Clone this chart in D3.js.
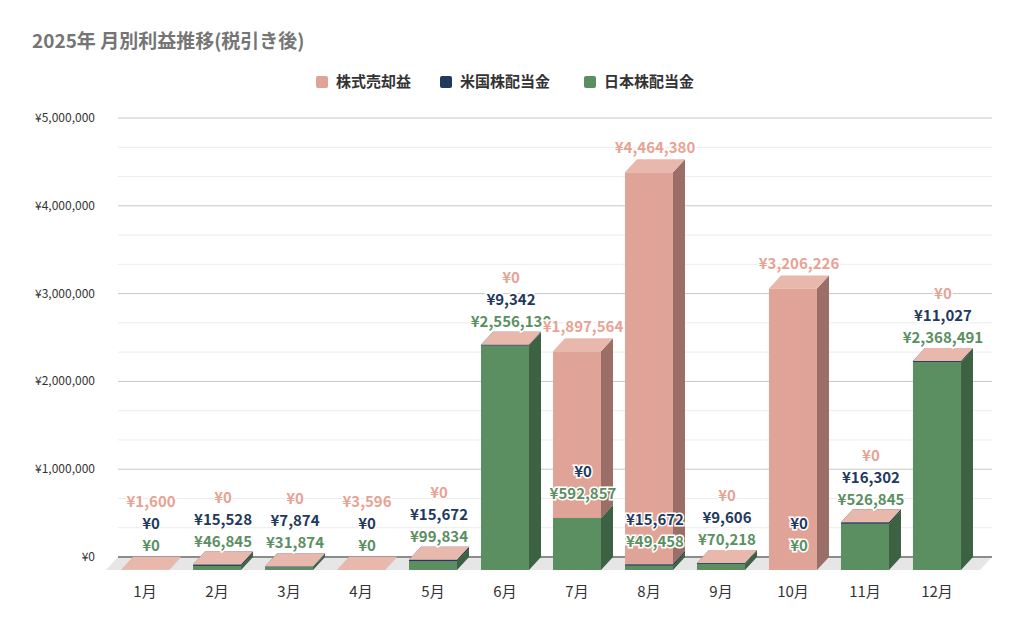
<!DOCTYPE html>
<html><head><meta charset="utf-8">
<script src="https://cdn.jsdelivr.net/npm/d3@7"></script>
<style>body{margin:0;background:#fff}svg{font-family:"Noto Sans CJK JP","Noto Sans",sans-serif}</style>
</head><body><svg id="c" width="1024" height="632"></svg>
<script>
const months=["1月","2月","3月","4月","5月","6月","7月","8月","9月","10月","11月","12月"];
const jp=[0,46845,31874,0,99834,2556130,592857,49458,70218,0,526845,2368491];
const us=[0,15528,7874,0,15672,9342,0,15672,9606,0,16302,11027];
const stock=[1600,0,0,3596,0,0,1897564,4464380,0,3206226,0,0];
const yTicks=[0,1000000,2000000,3000000,4000000,5000000];
const seriesNames=["株式売却益","米国株配当金","日本株配当金"];

const svg=d3.select("#c");
const DX=12,DY=13;
const y=d3.scaleLinear().domain([0,5000000]).range([557,118]);
const yF=v=>y(v)+DY;
const x=d3.scaleBand().domain(months).range([109,973]).paddingInner(0.333).paddingOuter(0.167);
const bw=x.bandwidth();

svg.append("text").attr("x",32).attr("y",48).attr("fill","#757575").attr("font-size",19).attr("font-weight",700).text("2025年 月別利益推移(税引き後)");

const cols={s:["#e0a397","#e9b8ad","#9b6f67"],u:["#1f3a5c","#3b5a82","#15283f"],j:["#5b8f62","#7aab80","#3d6143"]};
const lcol=["#e0a397","#1f3a5c","#5b8f62"];
const lx=[316,440,584];
seriesNames.forEach((n,i)=>{
  svg.append("rect").attr("x",lx[i]).attr("y",76).attr("width",12).attr("height",12).attr("rx",2).attr("fill",lcol[i]);
  svg.append("text").attr("x",lx[i]+20).attr("y",87).attr("font-size",15).attr("font-weight",700).attr("fill","#333").text(n);
});

const minor=d3.range(0,15).map(k=>k*1000000/3).filter(v=>v%1000000!==0);
svg.selectAll(".mg").data(minor).join("line").attr("x1",118).attr("x2",992).attr("y1",d=>y(d)).attr("y2",d=>y(d)).attr("stroke","#ececec");
svg.selectAll(".g").data(yTicks).join("line").attr("x1",118).attr("x2",992).attr("y1",d=>y(d)).attr("y2",d=>y(d)).attr("stroke","#c8c8c8");
svg.selectAll(".yt").data(yTicks).join("text").attr("x",95).attr("y",d=>y(d)+4).attr("text-anchor","end").attr("font-size",12).attr("fill","#333").text(d=>"¥"+d3.format(",")(d));
svg.append("polygon").attr("points",`106,${557+DY} 980,${557+DY} 992,557 118,557`).attr("fill","#e6e6e6");
svg.append("line").attr("x1",118).attr("x2",992).attr("y1",557).attr("y2",557).attr("stroke","#333");

function box(x0,v0,v1,c){
  const t=yF(v1),b=yF(v0);
  const g=svg.append("g");
  g.append("polygon").attr("points",`${x0+bw},${t} ${x0+bw+DX},${t-DY} ${x0+bw+DX},${b-DY} ${x0+bw},${b}`).attr("fill",c[2]);
  g.append("polygon").attr("points",`${x0},${t} ${x0+DX},${t-DY} ${x0+bw+DX},${t-DY} ${x0+bw},${t}`).attr("fill",c[1]);
  g.append("rect").attr("x",x0).attr("y",t).attr("width",bw).attr("height",Math.max(0,b-t)).attr("fill",c[0]);
}
months.forEach((m,i)=>{
  const x0=x(m);
  const a=jp[i],b=a+us[i],c=b+stock[i];
  if(a>0)box(x0,0,a,cols.j);
  if(us[i]>0)box(x0,a,b,cols.u);
  box(x0,b,c,cols.s);
});
svg.selectAll(".xl").data(months).join("text").attr("x",d=>x(d)+bw/2).attr("y",597).attr("text-anchor","middle").attr("font-size",15).attr("fill","#333").text(d=>d);

const fmt=v=>"¥"+d3.format(",")(v);
function lab(xc,yy,t,col){
  svg.append("text").attr("x",xc).attr("y",yy).attr("text-anchor","middle").attr("font-size",15).attr("font-weight",700)
   .attr("stroke","#fff").attr("stroke-width",3).attr("paint-order","stroke").attr("fill",col).text(t);
}
months.forEach((m,i)=>{
  const xc=x(m)+bw/2+6;
  const a=jp[i],b=a+us[i],c=b+stock[i];
  const gy=yF(a)-19;
  const uy=Math.min(yF(b)-19,gy-22);
  const sy=Math.min(yF(c)-19,uy-22);
  lab(xc,gy,fmt(jp[i]),"#5b8f62");
  lab(xc,uy,fmt(us[i]),"#1f3a5c");
  lab(xc,sy,fmt(stock[i]),"#e8a293");
});
</script></body></html>
